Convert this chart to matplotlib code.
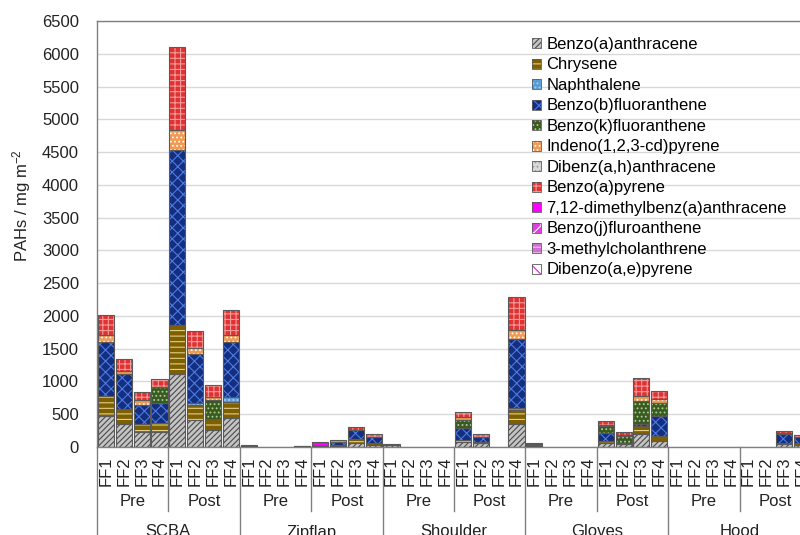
import numpy as np
import matplotlib
matplotlib.use("Agg")
import matplotlib.pyplot as plt
from matplotlib.patches import Patch
from matplotlib.legend_handler import HandlerTuple

plt.rcParams['font.family'] = ['Liberation Sans', 'DejaVu Sans']
plt.rcParams['mathtext.fontset'] = 'custom'
plt.rcParams['mathtext.rm'] = 'Liberation Sans'
plt.rcParams['mathtext.it'] = 'Liberation Sans:italic'
plt.rcParams['hatch.linewidth'] = 0.8

groups = ["SCBA", "Zipflap", "Shoulder", "Gloves", "Hood"]
stages = ["Pre", "Post"]
firefighters = ["FF1", "FF2", "FF3", "FF4"]

# values per bar, 40 bars: group > stage > FF
BaA = [474, 352, 225, 229, 1116, 413, 260, 439,
       20, 0, 0, 10, 10, 20, 57, 30,
       25, 0, 0, 0, 72, 57, 0, 352,
       20, 0, 0, 0, 66, 40, 194, 97,
       0, 0, 0, 0, 0, 0, 41, 30]
Chry = [311, 234, 127, 143, 739, 224, 164, 254,
        10, 0, 0, 10, 5, 15, 61, 36,
        20, 0, 0, 0, 35, 24, 0, 220,
        10, 0, 0, 0, 26, 26, 128, 71,
        0, 0, 0, 0, 0, 0, 25, 25]
Naph = [0, 0, 0, 0, 0, 41, 0, 76,
        0, 0, 0, 0, 0, 0, 0, 0,
        0, 0, 0, 0, 0, 0, 0, 20,
        0, 0, 0, 0, 0, 0, 0, 0,
        0, 0, 0, 0, 0, 0, 0, 0]
BbF = [815, 530, 290, 296, 2671, 744, 0, 832,
       0, 0, 0, 0, 0, 45, 142, 82,
       0, 0, 0, 0, 179, 67, 0, 1059,
       15, 0, 0, 0, 127, 0, 25, 306,
       0, 0, 0, 0, 0, 0, 133, 90]
BkF = [0, 0, 0, 254, 0, 0, 295, 0,
       0, 0, 0, 0, 0, 0, 0, 0,
       0, 0, 0, 0, 127, 0, 0, 0,
       0, 0, 0, 0, 102, 102, 361, 194,
       0, 0, 0, 0, 0, 0, 0, 0]
Ind = [102, 41, 77, 0, 310, 87, 50, 107,
       0, 0, 0, 0, 0, 0, 0, 0,
       0, 0, 0, 0, 41, 0, 0, 138,
       0, 0, 0, 0, 15, 15, 72, 61,
       0, 0, 0, 0, 0, 0, 10, 0]
DbA = [0] * 40
BaP = [306, 193, 127, 122, 1260, 265, 174, 387,
       0, 0, 0, 0, 0, 25, 41, 51,
       0, 0, 0, 0, 86, 56, 0, 494,
       15, 0, 0, 0, 62, 51, 275, 127,
       0, 0, 0, 0, 0, 0, 36, 43]
DMBA = [0] * 12 + [65] + [0] * 27
BjF = [0] * 40
MC3 = [0] * 40
DBaeP = [0] * 40

names = ["Benzo(a)anthracene", "Chrysene", "Naphthalene", "Benzo(b)fluoranthene",
         "Benzo(k)fluoranthene", "Indeno(1,2,3-cd)pyrene", "Dibenz(a,h)anthracene",
         "Benzo(a)pyrene", "7,12-dimethylbenz(a)anthracene", "Benzo(j)fluroanthene",
         "3-methylcholanthrene", "Dibenzo(a,e)pyrene"]
series = [BaA, Chry, Naph, BbF, BkF, Ind, DbA, BaP, DMBA, BjF, MC3, DBaeP]
# face colour, hatch colour, hatch
styles = [("#c4c4c4", "#4a4a4a", "//////"),
          ("#7f6000", "#e2cf8a", "---"),
          ("#5b9bd5", "#a9cdef", "...."),
          ("#142e80", "#4d7be0", "xxx"),
          ("#3a5a22", "#a9d08e", "...."),
          ("#ef9a55", "#ffffff", "...."),
          ("#d9d9d9", "#a0a0a0", "...."),
          ("#e03232", "#f49a9a", "+++"),
          ("#ff00ff", "#ff00ff", ""),
          ("#e040e0", "#ffffff", "xx"),
          ("#d070d0", "#f2c2f2", "---"),
          ("#ffffff", "#ff00ff", "\\\\\\")]

fig = plt.figure(figsize=(8, 5.35), dpi=100)
ax = fig.add_axes([97 / 800, 1 - 447 / 535, (811 - 97) / 800, (447 - 21) / 535])

x = np.arange(40)
w = 0.9
bottom = np.zeros(40)
handles = []
for vals, (fc, hc, h) in zip(series, styles):
    vals = np.array(vals, dtype=float)
    m = vals > 0
    if m.any():
        ax.bar(x[m], vals[m], w, bottom=bottom[m], color=fc, edgecolor='none', linewidth=0, zorder=2)
        if h:
            ax.bar(x[m], vals[m], w, bottom=bottom[m], facecolor='none', edgecolor=hc,
                   hatch=h, linewidth=0, zorder=2)
        ax.bar(x[m], vals[m], w, bottom=bottom[m], facecolor='none', edgecolor='#5a5a5a',
               linewidth=0.8, zorder=3)
    bottom += vals
    hp = [Patch(facecolor=fc, edgecolor='none', linewidth=0)]
    if h:
        hp.append(Patch(facecolor='none', edgecolor=hc, hatch=h, linewidth=0))
    hp.append(Patch(facecolor='none', edgecolor='#5a5a5a', linewidth=0.6))
    handles.append(tuple(hp))

ax.set_xlim(-0.5, 39.5)
ax.set_ylim(0, 6500)
ax.set_yticks(np.arange(0, 6501, 500))
ax.tick_params(axis='y', length=0, labelsize=12, pad=13, colors='#222222')
ax.set_xticks([])
ax.yaxis.grid(True, color='#d9d9d9', linewidth=1)
ax.set_axisbelow(True)
for s in ax.spines.values():
    s.set_color('#808080')
    s.set_linewidth(1)

fig.text(22 / 800, 1 - 206 / 535, "PAHs / mg m$^{-2}$", rotation=90,
         ha='center', va='center', fontsize=12, color='#222222')

tr = ax.get_xaxis_transform()
def ypos(px):
    return (447 - px) / (447 - 21)

i = 0
for g, grp in enumerate(groups):
    for s, st in enumerate(stages):
        for f, ff in enumerate(firefighters):
            ax.text(i, ypos(456), ff, rotation=90, ha='center', va='top',
                    fontsize=12, transform=tr, clip_on=False, color='#222222')
            i += 1
        ax.text(g * 8 + s * 4 + 1.5, ypos(502), st, ha='center', va='center',
                fontsize=12, transform=tr, clip_on=False, color='#222222')
        if s == 1:
            ax.plot([g * 8 + 3.5] * 2, [0, ypos(511)], color='#808080', lw=1,
                    transform=tr, clip_on=False)
    ax.text(g * 8 + 3.5, ypos(532), grp, ha='center', va='center',
            fontsize=12, transform=tr, clip_on=False, color='#222222')
    ax.plot([g * 8 - 0.5] * 2, [0, ypos(560)], color='#808080', lw=1,
            transform=tr, clip_on=False)
ax.plot([39.5] * 2, [0, ypos(560)], color='#808080', lw=1, transform=tr, clip_on=False)

fig.legend(handles, names, loc='upper left', bbox_to_anchor=(532 / 800, 1 - 37 / 535),
           frameon=False, fontsize=12, borderpad=0, borderaxespad=0,
           handlelength=0.55, handleheight=0.55, handletextpad=0.3, labelspacing=0.33,
           handler_map={tuple: HandlerTuple(ndivide=1, pad=0)})

fig.savefig("out.png", dpi=100)
